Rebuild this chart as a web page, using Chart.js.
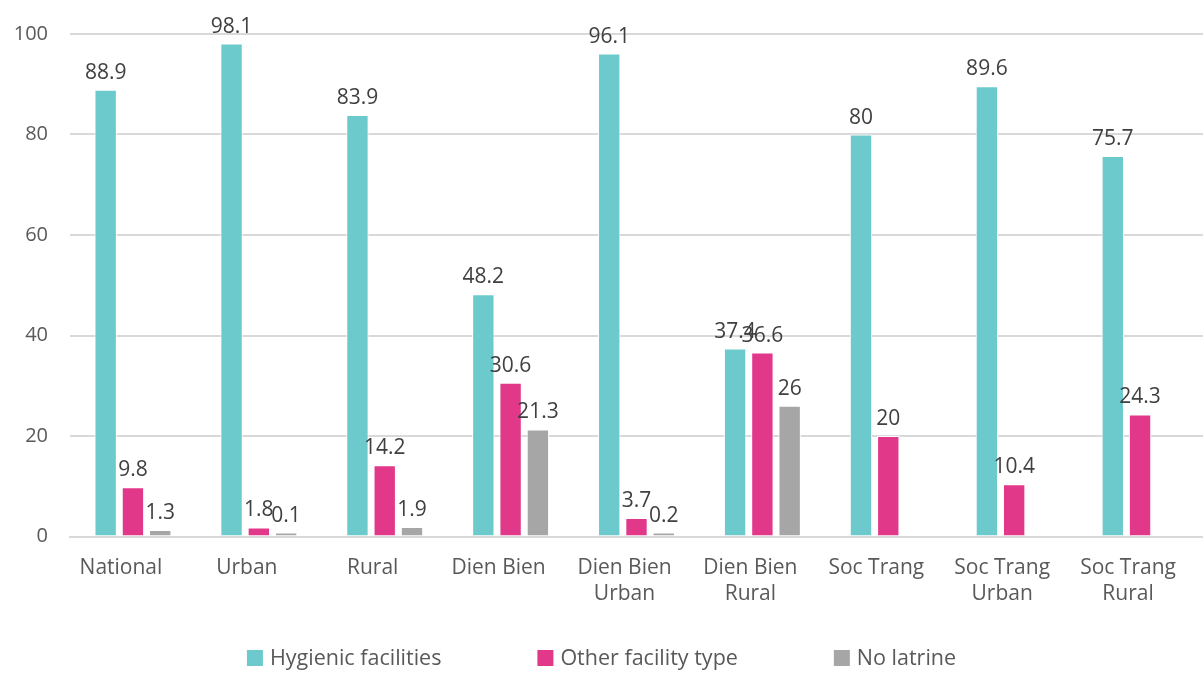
<!DOCTYPE html>
<html>
<head>
<meta charset="utf-8">
<title>Household sanitation facilities</title>
<script src="https://cdn.jsdelivr.net/npm/chart.js@4.4.1/dist/chart.umd.min.js"></script>
<style>
  html, body { margin: 0; padding: 0; background: #ffffff; }
  #wrap { width: 1203px; height: 673px; }
</style>
</head>
<body>
<div id="wrap"><canvas id="chart" width="1203" height="673"></canvas></div>
<script>
// Categories (multi-line where the label wraps)
const categories = [
  'National', 'Urban', 'Rural', 'Dien Bien',
  ['Dien Bien', 'Urban'], ['Dien Bien', 'Rural'],
  'Soc Trang', ['Soc Trang', 'Urban'], ['Soc Trang', 'Rural']
];

// Share of households (%) by facility type
const hygienic = [88.9, 98.1, 83.9, 48.2, 96.1, 37.4, 80, 89.6, 75.7];
const otherType = [9.8, 1.8, 14.2, 30.6, 3.7, 36.6, 20, 10.4, 24.3];
const noLatrine = [1.3, 0.1, 1.9, 21.3, 0.2, 26, null, null, null];

const yTicks = [0, 20, 40, 60, 80, 100];

const FONT = '"Open Sans", "Noto Sans", sans-serif';

// Writes each bar's value just above it
const valueLabels = {
  id: 'valueLabels',
  afterDatasetsDraw(chart) {
    const ctx = chart.ctx;
    ctx.save();
    ctx.font = '21px ' + FONT;
    ctx.fillStyle = '#404040';
    ctx.textAlign = 'center';
    ctx.textBaseline = 'alphabetic';
    chart.data.datasets.forEach((ds, i) => {
      const meta = chart.getDatasetMeta(i);
      meta.data.forEach((bar, j) => {
        const v = ds.data[j];
        if (v === null || v === undefined) return;
        ctx.fillText(String(v), bar.x, bar.y - 11);
      });
    });
    ctx.restore();
  }
};

// Single-row legend along the bottom edge, widely spaced items
const wideLegend = {
  id: 'wideLegend',
  afterDraw(chart) {
    const ctx = chart.ctx;
    const box = 16, textGap = 7, itemGap = 96, cy = 658;
    ctx.save();
    ctx.font = '21.5px ' + FONT;
    const items = chart.data.datasets.map(ds => ({
      text: ds.label, color: ds.backgroundColor,
      w: box + textGap + ctx.measureText(ds.label).width
    }));
    const total = items.reduce((s, it) => s + it.w, 0) + itemGap * (items.length - 1);
    let x = (chart.width - total) / 2;
    ctx.textBaseline = 'middle';
    ctx.textAlign = 'left';
    items.forEach(it => {
      ctx.fillStyle = it.color;
      ctx.fillRect(x, cy - box / 2, box, box);
      ctx.fillStyle = '#595959';
      ctx.fillText(it.text, x + box + textGap, cy + 1);
      x += it.w + itemGap;
    });
    ctx.restore();
  }
};

new Chart(document.getElementById('chart'), {
  type: 'bar',
  data: {
    labels: categories,
    datasets: [
      { label: 'Hygienic facilities', data: hygienic, backgroundColor: '#6ccacc', borderColor: '#ffffff', borderWidth: 1 },
      { label: 'Other facility type', data: otherType, backgroundColor: '#e2388a', borderColor: '#ffffff', borderWidth: 1 },
      { label: 'No latrine', data: noLatrine, backgroundColor: '#a6a6a6', borderColor: '#ffffff', borderWidth: 1 }
    ]
  },
  options: {
    responsive: false,
    animation: false,
    layout: { padding: { top: 23, right: 0, left: 0, bottom: 56 } },
    datasets: { bar: { categoryPercentage: 0.65, barPercentage: 0.82, minBarLength: 4 } },
    plugins: {
      legend: { display: false },
      tooltip: { enabled: false }
    },
    scales: {
      x: {
        grid: { display: false },
        border: { display: true, color: '#d9d9d9', width: 2 },
        ticks: {
          font: { family: FONT, size: 21, lineHeight: 1.25 },
          color: '#595959', padding: 10, labelOffset: -12,
          maxRotation: 0, autoSkip: false
        }
      },
      y: {
        min: 0,
        max: 100,
        afterBuildTicks(scale) { scale.ticks = yTicks.map(v => ({ value: v })); },
        afterFit(scale) { scale.width = 70; },
        grid: { color: '#d9d9d9', lineWidth: 2, drawTicks: false },
        border: { display: false },
        ticks: { font: { family: FONT, size: 20 }, color: '#595959', padding: 22 }
      }
    }
  },
  plugins: [valueLabels, wideLegend]
});
</script>
</body>
</html>
